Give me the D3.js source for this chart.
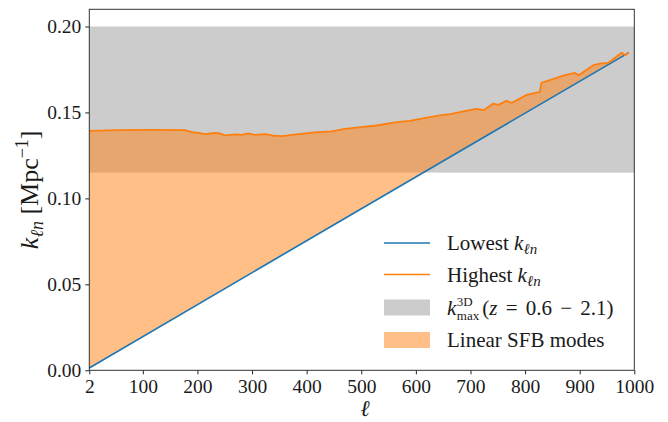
<!DOCTYPE html>
<html>
<head>
<meta charset="utf-8">
<script src="https://cdn.jsdelivr.net/npm/d3@7"></script>
<style>
  body { margin: 0; background: #fff; }
  text { font-family: "Liberation Serif", "DejaVu Serif", serif; fill: #1a1a1a; }
</style>
</head>
<body>
<script>
// highest k_ln per ell
var ellHigh = [2, 55, 116, 177, 190, 205, 214, 232, 241, 251, 269, 281, 293, 305, 324, 336,
               354, 366, 385, 415, 446, 470, 483, 504, 528, 565, 589, 608, 644, 663, 687,
               711, 724, 742, 751, 766, 776, 803, 827, 830, 873, 891, 898, 925, 940, 952,
               977, 983, 990];
var kHigh   = [0.1393, 0.1397, 0.1399, 0.1397, 0.1385, 0.1380, 0.1374, 0.1381, 0.1378, 0.1366,
               0.1372, 0.1370, 0.1378, 0.1370, 0.1374, 0.1366, 0.1362, 0.1366, 0.1374, 0.1384,
               0.1390, 0.1405, 0.1409, 0.1416, 0.1424, 0.1444, 0.1451, 0.1463, 0.1483, 0.1490,
               0.1506, 0.1521, 0.1513, 0.1552, 0.1544, 0.1567, 0.1556, 0.1602, 0.1620, 0.1672,
               0.1717, 0.1730, 0.1717, 0.1775, 0.1785, 0.1788, 0.1847, 0.1833, 0.1848];
// lowest k_ln (straight line)
var ellLow = [2, 450, 990];
var kLow   = [0.0013, 0.0847, 0.1848];
// k_max band
var bandLo = 0.115, bandHi = 0.20;

var xTicks = [2, 100, 200, 300, 400, 500, 600, 700, 800, 900, 1000];
var yTicks = [0, 0.05, 0.10, 0.15, 0.20];

var W = 668, H = 422;
var m = {left: 89.3, right: 668 - 634.3, top: 9.3, bottom: 422 - 370.3};

var svg = d3.select("body").append("svg")
    .attr("width", W)
    .attr("height", H);

var x = d3.scaleLinear().domain([2, 1000]).range([m.left, W - m.right]);
var y = d3.scaleLinear().domain([0, 0.21]).range([H - m.bottom, m.top]);

var orange = "#ff7f0e", blue = "#1f77b4";

// gray band
svg.append("rect")
    .attr("x", x(2)).attr("width", x(1000) - x(2))
    .attr("y", y(bandHi)).attr("height", y(bandLo) - y(bandHi))
    .attr("fill", "#808080").attr("fill-opacity", 0.4);

// fill between lowest and highest: highest forward, lowest back
var hiPts = ellHigh.map(function(l, i) { return [l, kHigh[i]]; });
var loPts = ellLow.map(function(l, i) { return [l, kLow[i]]; });
var poly = hiPts.concat(loPts.slice().reverse());
var line = d3.line().x(function(d) { return x(d[0]); }).y(function(d) { return y(d[1]); });

svg.append("path")
    .attr("d", line(poly) + "Z")
    .attr("fill", orange).attr("fill-opacity", 0.5);

svg.append("path")
    .attr("d", line(loPts))
    .attr("fill", "none").attr("stroke", blue).attr("stroke-width", 1.7);

svg.append("path")
    .attr("d", line(hiPts))
    .attr("fill", "none").attr("stroke", orange).attr("stroke-width", 1.8)
    .attr("stroke-linejoin", "round");

// axes
var xAxis = svg.append("g")
    .attr("transform", "translate(0," + (H - m.bottom) + ")")
    .call(d3.axisBottom(x).tickValues(xTicks).tickSize(4).tickPadding(5).tickFormat(d3.format("d")));
var yAxis = svg.append("g")
    .attr("transform", "translate(" + m.left + ",0)")
    .call(d3.axisLeft(y).tickValues(yTicks).tickSize(4).tickPadding(4).tickFormat(d3.format(".2f")));

[xAxis, yAxis].forEach(function(g) {
    g.select(".domain").remove();
    g.selectAll(".tick line").attr("stroke", "#222").attr("stroke-width", 1);
    g.selectAll("text").attr("font-size", "19.5px").attr("fill", "#222")
        .attr("font-family", "Liberation Serif, DejaVu Serif, serif");
});

// frame
svg.append("rect")
    .attr("x", m.left).attr("y", m.top)
    .attr("width", W - m.left - m.right).attr("height", H - m.top - m.bottom)
    .attr("fill", "none").attr("stroke", "#333").attr("stroke-width", 1);

// axis labels
svg.append("text")
    .attr("x", 365).attr("y", 416)
    .attr("text-anchor", "middle")
    .attr("font-size", "23px").attr("font-style", "italic")
    .text("\u2113");

var yl = svg.append("text")
    .attr("transform", "translate(38," + ((m.top + H - m.bottom) / 2) + ") rotate(-90)")
    .attr("text-anchor", "middle")
    .attr("font-size", "26px");
yl.append("tspan").attr("font-style", "italic").text("k");
yl.append("tspan").attr("font-size", "18px").attr("font-style", "italic").attr("dy", 5).text("\u2113n");
yl.append("tspan").attr("dy", -5).text(" [Mpc");
yl.append("tspan").attr("font-size", "18px").attr("dy", -10).text("\u22121");
yl.append("tspan").attr("dy", 10).text("]");

// legend
var lx0 = 384, lx1 = 430, tx = 447, fs = "21px";
var rows = [243, 274.5, 307.5, 340];
var leg = svg.append("g");

function kLabel(t, sub) {
    t.append("tspan").attr("font-style", "italic").text("k");
    t.append("tspan").attr("font-size", "15px").attr("font-style", "italic").attr("dy", 4).text(sub);
}

leg.append("line").attr("x1", lx0).attr("x2", lx1).attr("y1", rows[0]).attr("y2", rows[0])
    .attr("stroke", blue).attr("stroke-width", 1.7);
var t0 = leg.append("text").attr("x", tx).attr("y", rows[0] + 7).attr("font-size", fs);
t0.append("tspan").text("Lowest ");
kLabel(t0, "\u2113n");

leg.append("line").attr("x1", lx0).attr("x2", lx1).attr("y1", rows[1]).attr("y2", rows[1])
    .attr("stroke", orange).attr("stroke-width", 1.7);
var t1 = leg.append("text").attr("x", tx).attr("y", rows[1] + 7).attr("font-size", fs);
t1.append("tspan").text("Highest ");
kLabel(t1, "\u2113n");

leg.append("rect").attr("x", lx0).attr("width", lx1 - lx0)
    .attr("y", rows[2] - 8).attr("height", 16)
    .attr("fill", "#808080").attr("fill-opacity", 0.4);
var t2 = leg.append("text").attr("x", tx).attr("y", rows[2] + 7).attr("font-size", fs);
t2.append("tspan").attr("font-style", "italic").text("k");
t2.append("tspan").attr("font-size", "13px").attr("dx", 0.5).attr("dy", -9).text("3D");
t2.append("tspan").attr("font-size", "13px").attr("dx", -15.9).attr("dy", 14).text("max");
t2.append("tspan").attr("dx", 3).attr("dy", -5).text("(");
t2.append("tspan").attr("font-style", "italic").text("z");
t2.append("tspan").attr("dx", 3).text(" = ");
t2.append("tspan").attr("dx", 3).text("0.6 ");
t2.append("tspan").attr("dx", 3).text("\u2212 ");
t2.append("tspan").attr("dx", 3).text("2.1)");

leg.append("rect").attr("x", lx0).attr("width", lx1 - lx0)
    .attr("y", rows[3] - 8).attr("height", 16)
    .attr("fill", orange).attr("fill-opacity", 0.5);
leg.append("text").attr("x", tx).attr("y", rows[3] + 7).attr("font-size", fs)
    .text("Linear SFB modes");
</script>
</body>
</html>
